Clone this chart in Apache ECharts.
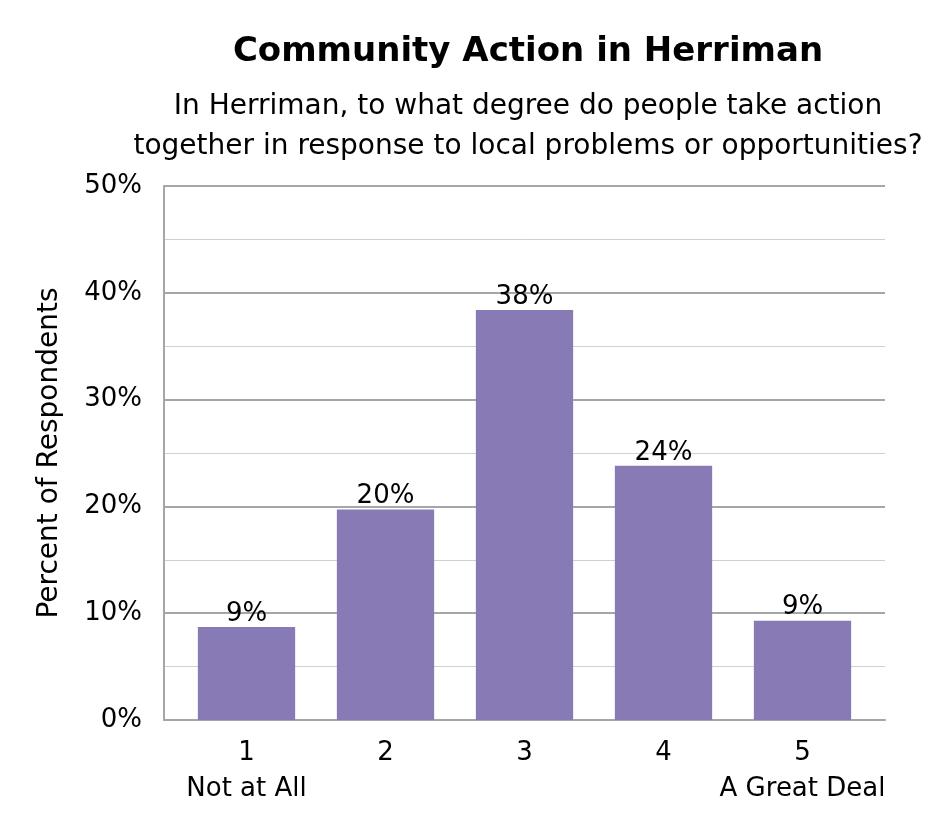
<!DOCTYPE html>
<html>
<head>
<meta charset="utf-8">
<script src="https://cdn.jsdelivr.net/npm/echarts@6/dist/echarts.min.js"></script>
<style>
  html, body { margin: 0; padding: 0; background: #fff; }
  #chart { width: 945px; height: 840px; }
</style>
</head>
<body>
<div id="chart"></div>
<script>
// Values (percent of respondents).
const CATEGORIES = ["1\nNot at All", "2", "3", "4", "5\nA Great Deal"];
const PERCENTS = [8.7, 19.7, 38.4, 23.8, 9.3];
const TITLE = "Community Action in Herriman";
const SUBTITLE = "In Herriman, to what degree do people take action\ntogether in response to local problems or opportunities?";
const Y_NAME = "Percent of Respondents";

const FONT = "'DejaVu Sans', sans-serif";
const GRID_MAJOR = "#a6a6a6";
const GRID_MINOR = "#d0d0d0";
const TXT = { fontFamily: FONT, fontSize: 26, color: "#000" };

const chart = echarts.init(document.getElementById("chart"));
chart.setOption({
  animation: false,
  textStyle: { fontFamily: FONT, color: "#000" },
  title: [
    {
      text: TITLE,
      left: 523, top: 30, textAlign: "center",
      textStyle: { fontFamily: FONT, fontSize: 34, fontWeight: "bold", color: "#000" },
    },
    {
      text: SUBTITLE,
      left: 523, top: 82, textAlign: "center",
      textStyle: { ...TXT, fontSize: 28, fontWeight: "normal", lineHeight: 40 },
    },
  ],
  // Grid 0 carries the frame and gridlines; Excel insets the categories a
  // little from the frame, so the bars live in the slightly narrower grid 1.
  grid: [
    { left: 164, right: 60, top: 186, bottom: 120 },
    { left: 177, right: 73, top: 186, bottom: 120 },
  ],
  xAxis: [
    {
      gridIndex: 0,
      type: "category",
      data: CATEGORIES,
      axisLine: { lineStyle: { color: GRID_MAJOR, width: 2 } },
      axisTick: { show: false },
      axisLabel: { show: false },
    },
    {
      gridIndex: 1,
      type: "category",
      data: CATEGORIES,
      axisLine: { show: false },
      axisTick: { show: false },
      axisLabel: { ...TXT, interval: 0, margin: 15, lineHeight: 36 },
    },
  ],
  yAxis: [
    {
      gridIndex: 0,
      type: "value",
      min: 0, max: 50, interval: 10,
      name: Y_NAME,
      nameLocation: "middle",
      nameGap: 100,
      nameTextStyle: { ...TXT, fontSize: 28 },
      axisLine: { show: true, lineStyle: { color: GRID_MAJOR, width: 2 } },
      axisTick: { show: false },
      axisLabel: { ...TXT, margin: 22, formatter: "{value}%" },
      splitLine: { lineStyle: { color: GRID_MAJOR, width: 2 } },
      minorTick: { show: false, splitNumber: 2 },
      minorSplitLine: { show: true, lineStyle: { color: GRID_MINOR, width: 1 } },
    },
    {
      gridIndex: 1,
      type: "value",
      min: 0, max: 50, interval: 10,
      show: false,
    },
  ],
  series: [
    {
      type: "bar",
      xAxisIndex: 1,
      yAxisIndex: 1,
      data: PERCENTS,
      barWidth: "70%",
      itemStyle: { color: "#877ab5" },
      label: {
        ...TXT,
        show: true,
        position: "top",
        distance: 0,
        formatter: (p) => Math.round(p.value) + "%",
      },
    },
  ],
});
</script>
</body>
</html>
